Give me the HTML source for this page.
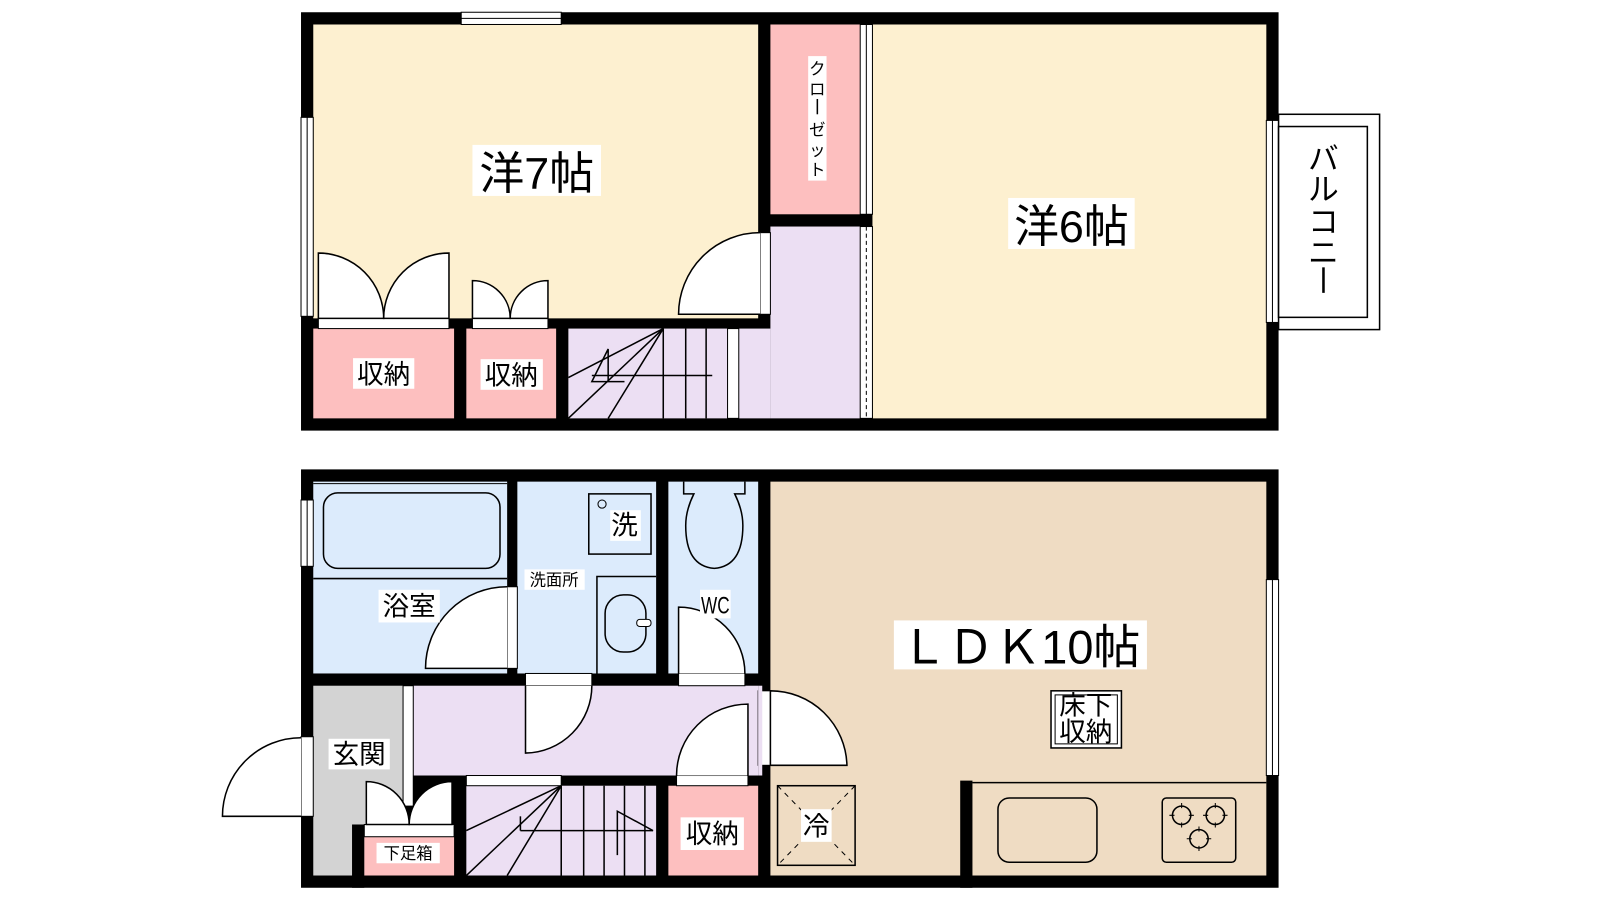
<!DOCTYPE html>
<html><head><meta charset="utf-8"><style>
html,body{margin:0;padding:0;background:#fff}
svg{display:block}
text{font-family:"Liberation Sans","Noto Sans CJK JP",sans-serif;fill:#000}
</style></head><body>
<svg width="1600" height="900" viewBox="0 0 1568 882" xmlns="http://www.w3.org/2000/svg">
<!-- ================= UPPER FLOOR ================= -->
<rect x="295" y="12" width="958" height="410" fill="#000"/>
<rect x="307" y="24" width="436" height="288" fill="#fdf0d0"/>
<rect x="755" y="24" width="88" height="186" fill="#fdbfbf"/>
<rect x="755" y="222" width="88" height="188" fill="#ecdff3"/>
<rect x="724" y="322" width="31" height="88" fill="#ecdff3"/>
<rect x="855" y="24" width="386" height="386" fill="#fdf0d0"/>
<rect x="307" y="322" width="138" height="88" fill="#fdbfbf"/>
<rect x="457" y="322" width="88" height="88" fill="#fdbfbf"/>
<rect x="557" y="322" width="156" height="88" fill="#ecdff3"/>
<rect x="713" y="322" width="11" height="88" fill="#fff" stroke="#000" stroke-width="1"/>
<rect x="452" y="12" width="98" height="12" fill="#fff" stroke="#000" stroke-width="1"/>
<line x1="452" y1="18" x2="550" y2="18" stroke="#000" stroke-width="1"/>
<rect x="295" y="115" width="12" height="195" fill="#fff" stroke="#000" stroke-width="1"/>
<line x1="301" y1="115" x2="301" y2="310" stroke="#000" stroke-width="1"/>
<rect x="843" y="24" width="12" height="186" fill="#fff" stroke="#000" stroke-width="1"/>
<line x1="849" y1="24" x2="849" y2="210" stroke="#000"/>
<rect x="843" y="222" width="12" height="188" fill="#fff" stroke="#000" stroke-width="1"/>
<line x1="849" y1="222" x2="849" y2="410" stroke="#000" stroke-dasharray="4,3"/>
<rect x="1241" y="118" width="12" height="198" fill="#fff" stroke="#000" stroke-width="1"/>
<line x1="1247" y1="118" x2="1247" y2="316" stroke="#000"/>
<rect x="1253" y="112" width="99" height="211" fill="#fff" stroke="#000" stroke-width="1.5"/>
<rect x="1253" y="124" width="87" height="187" fill="#fff" stroke="#000" stroke-width="1.5"/>
<rect x="745" y="228" width="10" height="80" fill="#fff" stroke="#000"/>
<path d="M745 228 A80 80 0 0 0 665 308 L745 308" fill="#fff" stroke="#000" stroke-width="1.5"/>
<rect x="312" y="312" width="128" height="10" fill="#fff" stroke="#000"/>
<path d="M312 312 L312 248 A64 64 0 0 1 376 312 Z" fill="#fff" stroke="#000" stroke-width="1.5"/>
<path d="M440 312 L440 248 A64 64 0 0 0 376 312 Z" fill="#fff" stroke="#000" stroke-width="1.5"/>
<rect x="463" y="312" width="74" height="10" fill="#fff" stroke="#000"/>
<path d="M463 312 L463 275 A37 37 0 0 1 500 312 Z" fill="#fff" stroke="#000" stroke-width="1.5"/>
<path d="M537 312 L537 275 A37 37 0 0 0 500 312 Z" fill="#fff" stroke="#000" stroke-width="1.5"/>
<g stroke="#000" stroke-width="1.5" fill="none">
<line x1="650" y1="322" x2="557" y2="370"/>
<line x1="650" y1="322" x2="557" y2="410"/>
<line x1="650" y1="322" x2="596" y2="410"/>
<line x1="650" y1="322" x2="650" y2="410"/>
<line x1="672" y1="322" x2="672" y2="410"/>
<line x1="692" y1="322" x2="692" y2="410"/>
<line x1="580" y1="368" x2="698" y2="368"/>
<polyline points="612,374 580,374 596,342 596,374"/>
</g>
<rect x="463" y="142" width="126" height="50" fill="#fff"/>
<text x="526" y="185" font-size="44" text-anchor="middle">洋7帖</text>
<rect x="988" y="194" width="124" height="50" fill="#fff"/>
<text x="1050" y="237" font-size="44" text-anchor="middle">洋6帖</text>
<rect x="792" y="55" width="18" height="122" fill="#fff"/>
<text x="801" y="73" font-size="16" text-anchor="middle">ク</text>
<text x="801" y="93" font-size="16" text-anchor="middle">ロ</text>
<line x1="801" y1="97" x2="801" y2="112" stroke="#000" stroke-width="1.5"/>
<text x="801" y="133" font-size="16" text-anchor="middle">ゼ</text>
<text x="801" y="153" font-size="16" text-anchor="middle">ッ</text>
<text x="801" y="172" font-size="16" text-anchor="middle">ト</text>
<text x="1297" y="166" font-size="30" text-anchor="middle">バ</text>
<text x="1297" y="196" font-size="30" text-anchor="middle">ル</text>
<text x="1297" y="228" font-size="30" text-anchor="middle">コ</text>
<text x="1297" y="258" font-size="30" text-anchor="middle">ニ</text>
<line x1="1297" y1="262" x2="1297" y2="287" stroke="#000" stroke-width="2.5"/>
<rect x="346" y="351" width="60" height="30" fill="#fff"/>
<text x="376" y="376" font-size="26" text-anchor="middle">収納</text>
<rect x="471" y="352" width="61" height="30" fill="#fff"/>
<text x="501" y="377" font-size="26" text-anchor="middle">収納</text>

<!-- ================= LOWER FLOOR ================= -->
<rect x="295" y="460" width="958" height="410" fill="#000"/>
<rect x="307" y="472" width="190" height="188" fill="#dcebfc"/>
<rect x="507" y="472" width="136" height="188" fill="#dcebfc"/>
<rect x="655" y="472" width="88" height="188" fill="#dcebfc"/>
<rect x="755" y="472" width="486" height="386" fill="#efdcc3"/>
<rect x="405" y="672" width="338" height="88" fill="#ecdff3"/>
<rect x="307" y="672" width="88" height="186" fill="#d3d3d3"/>
<rect x="395" y="672" width="10" height="118" fill="#fff" stroke="#000"/>
<rect x="357" y="820" width="88" height="38" fill="#fdbfbf"/>
<rect x="457" y="770" width="186" height="88" fill="#ecdff3"/>
<rect x="655" y="770" width="88" height="88" fill="#fdbfbf"/>
<rect x="345" y="808" width="12" height="62" fill="#000"/>
<rect x="295" y="490" width="12" height="65" fill="#fff" stroke="#000"/>
<line x1="301" y1="490" x2="301" y2="555" stroke="#000"/>
<rect x="1241" y="568" width="12" height="192" fill="#fff" stroke="#000"/>
<line x1="1247" y1="568" x2="1247" y2="760" stroke="#000"/>
<line x1="307" y1="567" x2="497" y2="567" stroke="#000" stroke-width="1.5"/>
<line x1="307" y1="474" x2="497" y2="474" stroke="#000" stroke-width="1"/>
<rect x="317" y="483" width="173" height="74" rx="14" fill="none" stroke="#000" stroke-width="1.5"/>
<rect x="497" y="575" width="10" height="80" fill="#fff" stroke="#000"/>
<path d="M497 575 A80 80 0 0 0 417 655 L497 655" fill="#fff" stroke="#000" stroke-width="1.5"/>
<rect x="577" y="484" width="61" height="59" fill="none" stroke="#000" stroke-width="1.5"/>
<circle cx="590" cy="494" r="4" fill="none" stroke="#000"/>
<polyline points="585,660 585,565 643,565" fill="none" stroke="#000" stroke-width="1.5"/>
<rect x="593" y="583" width="40" height="56" rx="18" fill="none" stroke="#000" stroke-width="1.5"/>
<rect x="624" y="607" width="14" height="7" rx="3" fill="#fff" stroke="#000"/>
<path d="M670 472 L670 484 L680 484 Q672 500 672 515 Q672 555 700 557 Q728 555 728 515 Q728 500 720 484 L730 484 L730 472" fill="none" stroke="#000" stroke-width="1.5"/>
<rect x="515" y="660" width="65" height="12" fill="#fff" stroke="#000"/>
<path d="M515 672 L515 738 A66 66 0 0 0 580 672" fill="#fff" stroke="#000" stroke-width="1.5"/>
<rect x="665" y="660" width="65" height="12" fill="#fff" stroke="#000"/>
<path d="M665 660 L665 595 A65 65 0 0 1 730 660" fill="#fff" stroke="#000" stroke-width="1.5"/>
<rect x="743" y="677" width="12" height="73" fill="#fff" stroke="#000"/>
<path d="M755 677 A75 75 0 0 1 830 750 L755 750 Z" fill="#fff" stroke="#000" stroke-width="1.5"/>
<rect x="743" y="672" width="4" height="88" fill="#ecdff3"/>
<rect x="663" y="760" width="70" height="10" fill="#fff" stroke="#000"/>
<path d="M733 760 L733 690 A70 70 0 0 0 663 760" fill="#fff" stroke="#000" stroke-width="1.5"/>
<rect x="457" y="760" width="93" height="10" fill="#fff" stroke="#000"/>
<rect x="295" y="722" width="12" height="78" fill="#fff" stroke="#000"/>
<path d="M295 723 A77 77 0 0 0 218 800 L295 800" fill="#fff" stroke="#000" stroke-width="1.5"/>
<rect x="357" y="808" width="88" height="12" fill="#fff" stroke="#000"/>
<path d="M359 808 L359 766 A42 42 0 0 1 401 808 Z" fill="#fff" stroke="#000" stroke-width="1.5"/>
<path d="M443 808 L443 766 A42 42 0 0 0 401 808 Z" fill="#fff" stroke="#000" stroke-width="1.5"/>
<g stroke="#000" stroke-width="1.5" fill="none">
<line x1="550" y1="770" x2="457" y2="814"/>
<line x1="550" y1="770" x2="457" y2="858"/>
<line x1="550" y1="770" x2="497" y2="858"/>
<line x1="550" y1="770" x2="550" y2="858"/>
<line x1="572" y1="770" x2="572" y2="858"/>
<line x1="592" y1="770" x2="592" y2="858"/>
<line x1="612" y1="770" x2="612" y2="858"/>
<line x1="632" y1="770" x2="632" y2="858"/>
<line x1="510" y1="814" x2="640" y2="814"/>
<line x1="510" y1="800" x2="510" y2="814"/>
<polyline points="605,838 605,795 640,814"/>
</g>
<rect x="941" y="765" width="12" height="105" fill="#000"/>
<line x1="953" y1="767" x2="1241" y2="767" stroke="#000" stroke-width="1.5"/>
<rect x="978" y="782" width="97" height="63" rx="11" fill="none" stroke="#000" stroke-width="1.5"/>
<rect x="1139" y="782" width="72" height="63" rx="4" fill="none" stroke="#000" stroke-width="1.5"/>
<g fill="none" stroke="#000" stroke-width="1.5">
<circle cx="1158" cy="799" r="9"/><circle cx="1191" cy="799" r="9"/><circle cx="1175" cy="822" r="9"/>
<path d="M1146 799h24M1158 787v24M1179 799h24M1191 787v24M1163 822h24M1175 810v24" stroke-width="1"/>
</g>
<circle cx="1158" cy="799" r="7" fill="#efdcc3"/><circle cx="1191" cy="799" r="7" fill="#efdcc3"/><circle cx="1175" cy="822" r="7" fill="#efdcc3"/>
<rect x="762" y="770" width="76" height="78" fill="none" stroke="#000" stroke-width="1.5"/>
<line x1="762" y1="770" x2="838" y2="848" stroke="#000" stroke-dasharray="5,5"/>
<line x1="838" y1="770" x2="762" y2="848" stroke="#000" stroke-dasharray="5,5"/>
<rect x="785" y="793" width="30" height="32" fill="#fff"/>
<text x="800" y="819" font-size="26" text-anchor="middle">冷</text>
<rect x="1030" y="677" width="69" height="56" fill="#fff" stroke="#000" stroke-width="1.5"/>
<rect x="1034" y="681" width="61" height="48" fill="none" stroke="#000" stroke-width="1"/>
<text x="1064" y="700" font-size="26" text-anchor="middle">床下</text>
<text x="1064" y="726" font-size="26" text-anchor="middle">収納</text>
<rect x="876" y="608" width="248" height="48" fill="#fff"/>
<text x="1000" y="650" font-size="46" text-anchor="middle">ＬＤＫ10帖</text>
<rect x="371" y="578" width="60" height="32" fill="#fff"/>
<text x="401" y="603" font-size="26" text-anchor="middle">浴室</text>
<rect x="514" y="558" width="59" height="20" fill="#fff"/>
<text x="543" y="574" font-size="16" text-anchor="middle">洗面所</text>
<rect x="598" y="500" width="30" height="30" fill="#fff"/>
<text x="612" y="524" font-size="26" text-anchor="middle">洗</text>
<rect x="686" y="578" width="30" height="28" fill="#fff"/>
<text x="701" y="601" font-size="24" text-anchor="middle" textLength="28" lengthAdjust="spacingAndGlyphs">WC</text>
<rect x="322" y="724" width="60" height="30" fill="#fff"/>
<text x="352" y="748" font-size="26" text-anchor="middle">玄関</text>
<rect x="369" y="826" width="62" height="20" fill="#fff"/>
<text x="400" y="842" font-size="16" text-anchor="middle">下足箱</text>
<rect x="667" y="801" width="62" height="32" fill="#fff"/>
<text x="698" y="826" font-size="26" text-anchor="middle">収納</text>
</svg>
</body></html>
